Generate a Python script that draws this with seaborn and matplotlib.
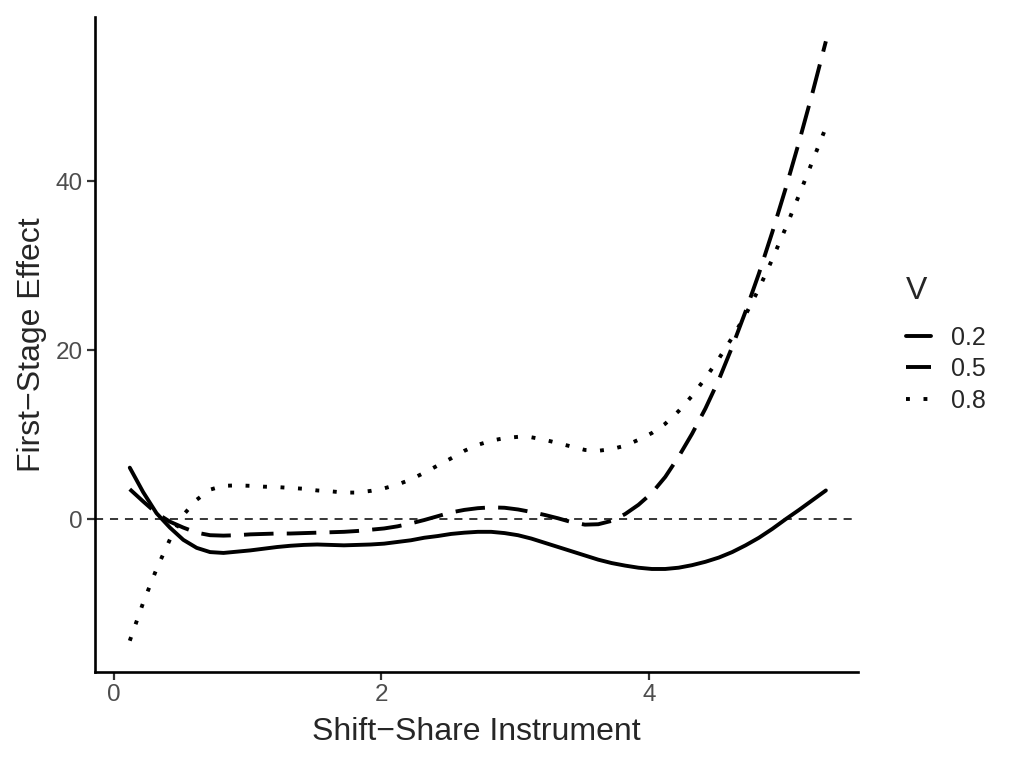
import pandas as pd
import matplotlib.pyplot as plt
import seaborn as sns
import numpy as np

# values (x step 0.1)
x_vals = [0.12, 0.22, 0.32, 0.42, 0.52, 0.62, 0.72, 0.82, 0.92, 1.02,
          1.12, 1.22, 1.32, 1.42, 1.52, 1.62, 1.72, 1.82, 1.92, 2.02,
          2.12, 2.22, 2.32, 2.42, 2.52, 2.62, 2.72, 2.82, 2.92, 3.02,
          3.12, 3.22, 3.32, 3.42, 3.52, 3.62, 3.72, 3.82, 3.92, 4.02,
          4.12, 4.22, 4.32, 4.42, 4.52, 4.62, 4.72, 4.82, 4.92, 5.02,
          5.12, 5.22, 5.32]
v02 = [6.1, 3.2, 0.7, -1.0, -2.45, -3.4, -3.9, -4.0, -3.85, -3.7,
       -3.5, -3.3, -3.15, -3.05, -3.0, -3.05, -3.1, -3.05, -3.0, -2.9,
       -2.7, -2.5, -2.2, -2.0, -1.75, -1.6, -1.5, -1.5, -1.65, -1.9,
       -2.3, -2.8, -3.3, -3.8, -4.3, -4.8, -5.2, -5.5, -5.75, -5.9,
       -5.9, -5.75, -5.45, -5.05, -4.55, -3.9, -3.1, -2.2, -1.15, 0.0,
       1.1, 2.25, 3.4]
v05 = [3.55, 2.1, 0.7, -0.3, -1.0, -1.6, -1.9, -1.95, -1.9, -1.8,
       -1.75, -1.7, -1.7, -1.65, -1.6, -1.55, -1.5, -1.4, -1.25, -1.1,
       -0.85, -0.5, -0.1, 0.35, 0.8, 1.1, 1.3, 1.4, 1.35, 1.15,
       0.85, 0.5, 0.1, -0.35, -0.65, -0.6, -0.2, 0.6, 1.7, 3.1,
       5.0, 7.4, 10.1, 13.1, 16.5, 20.4, 24.6, 29.1, 34.0, 39.2,
       44.7, 50.5, 56.6]
v08 = [-14.4, -9.9, -5.9, -2.4, 0.5, 2.3, 3.5, 3.95, 4.0, 3.95,
       3.85, 3.8, 3.7, 3.6, 3.4, 3.3, 3.15, 3.15, 3.35, 3.65,
       4.1, 4.7, 5.5, 6.35, 7.2, 8.1, 8.8, 9.3, 9.6, 9.75,
       9.7, 9.4, 9.0, 8.6, 8.2, 8.1, 8.3, 8.7, 9.4, 10.2,
       11.3, 12.8, 14.6, 16.7, 19.0, 21.5, 24.2, 27.3, 30.8, 34.5,
       38.4, 42.4, 46.4]
levels = ['0.2', '0.5', '0.8']

df = pd.DataFrame({
    'x': x_vals * 3,
    'y': v02 + v05 + v08,
    'V': [lv for lv in levels for _ in x_vals],
})

sns.set_style('ticks')
plt.rcParams['font.family'] = ['Liberation Sans', 'DejaVu Sans']

fig = plt.figure(figsize=(10.19, 7.65), dpi=100)
ax = fig.add_axes([0.0932, 0.1216, 0.7488, 0.8564])

ax.axhline(0, color='black', lw=1.1, ls=(0, (5.3, 4.5)))
sns.lineplot(data=df, x='x', y='y', style='V', style_order=levels, color='black',
             dashes={'0.2': '', '0.5': (7.6, 3.4), '0.8': (1, 3.5)},
             linewidth=2.8, estimator=None, ax=ax)
for ln in ax.get_lines():
    ln.set_dash_capstyle('butt')

ax.set_xlim(-0.14, 5.56)
ax.set_ylim(-18.1, 59.5)
ax.set_xticks([0, 2, 4])
ax.set_yticks([0, 20, 40])
ax.tick_params(labelsize=17.5, labelcolor='#4D4D4D', color='#333333', length=5.5, width=1.6)
ax.set_xlabel('Shift\u2212Share Instrument', fontsize=23, labelpad=7.5)
ax.set_ylabel('First\u2212Stage Effect', fontsize=23, labelpad=6)
sns.despine(ax=ax)
for s in ['left', 'bottom']:
    ax.spines[s].set_linewidth(1.9)
    ax.spines[s].set_color('black')

leg = ax.legend(title='V', loc='center left', bbox_to_anchor=(1.033, 0.5), frameon=False,
                fontsize=18, title_fontsize=23, handlelength=1.0, handletextpad=0.8,
                labelspacing=0.3)
leg._legend_box.align = 'left'
leg._legend_box.sep = 14
for h in leg.get_lines():
    h.set_linewidth(2.8)

fig.savefig('out.png', dpi=100)
